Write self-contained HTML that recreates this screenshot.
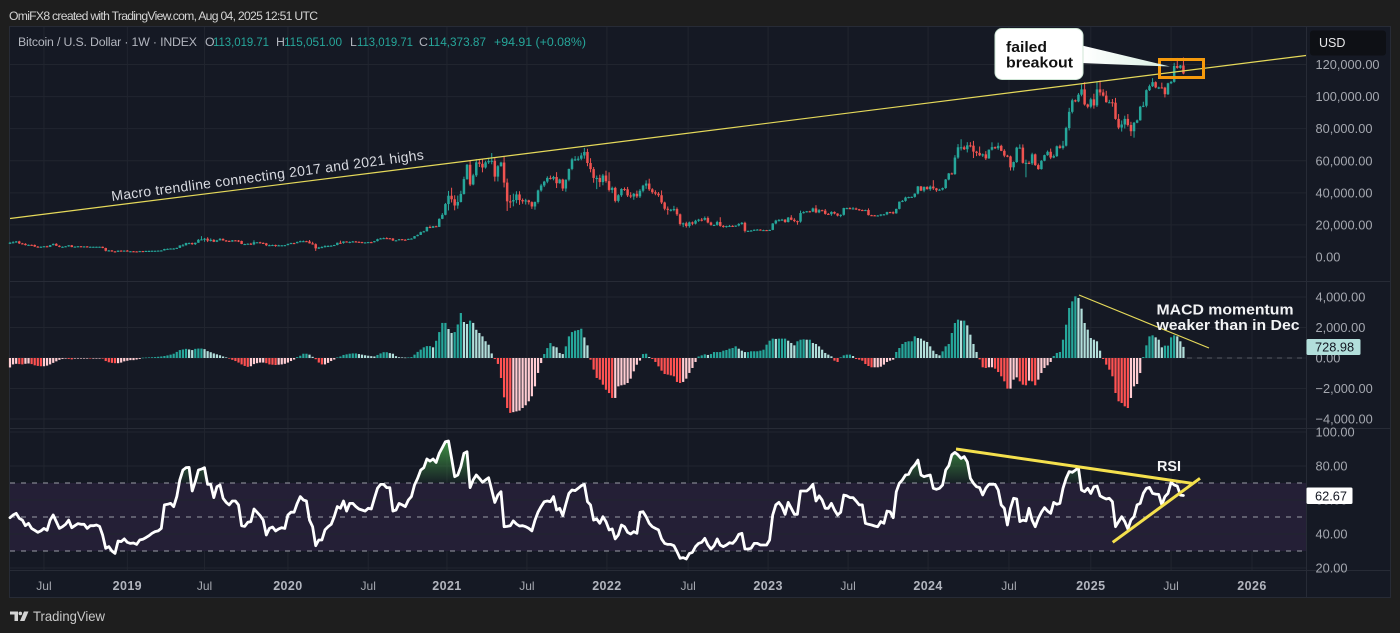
<!DOCTYPE html>
<html lang="en">
<head>
<meta charset="utf-8">
<title>Bitcoin / U.S. Dollar weekly chart</title>
<style>
html,body{margin:0;padding:0;background:#1e1e1e;width:1400px;height:633px;overflow:hidden}
svg{display:block}
text{font-family:"Liberation Sans",sans-serif}
.axis{font-size:12.8px;fill:#a5a8b0}
.bold{font-weight:700}
</style>
</head>
<body>
<svg id="chart" xmlns="http://www.w3.org/2000/svg" width="1400" height="633" viewBox="0 0 1400 633">
  <defs>
    <linearGradient id="rsiGreen" x1="0" y1="440" x2="0" y2="483" gradientUnits="userSpaceOnUse">
      <stop offset="0" stop-color="#43a047" stop-opacity="0.9"/>
      <stop offset="1" stop-color="#43a047" stop-opacity="0.05"/>
    </linearGradient>
    <linearGradient id="tailFade" x1="1083" y1="0" x2="1170" y2="0" gradientUnits="userSpaceOnUse">
      <stop offset="0" stop-color="#ffffff"/>
      <stop offset="1" stop-color="#d8efe2"/>
    </linearGradient>
    <clipPath id="rsiAbove"><rect x="9" y="429" width="1297" height="54"/></clipPath>
  </defs>
  <rect x="0" y="0" width="1400" height="633" fill="#1e1e1e"/>
  <text x="9" y="20" font-size="12.2" fill="#d4d4d4" textLength="309" lengthAdjust="spacing">OmiFX8 created with TradingView.com, Aug 04, 2025 12:51 UTC</text>
  <rect x="9.5" y="26.5" width="1381" height="571" fill="#151924" stroke="#272b36"/>
  <g id="grid"></g>
  <rect x="10" y="483" width="1296" height="68" fill="#241f36"/>
  <g id="gridH"></g>
  <g id="dividers" stroke="#272b36" stroke-width="1">
    <line x1="1306.5" y1="27" x2="1306.5" y2="598"/>
    <line x1="10" y1="281.5" x2="1390" y2="281.5"/>
    <line x1="10" y1="428.5" x2="1390" y2="428.5"/>
    <line x1="10" y1="570.5" x2="1390" y2="570.5"/>
  </g>
  <g id="rsiLevels"></g>
  <line x1="1187" y1="358" x2="1306" y2="358" stroke="#565a65" stroke-dasharray="5 5"/>
  <g id="macd"></g>
  <g id="candles"></g>
  <g id="rsiPane"></g>
  <g id="axes"></g>

  <g font-size="12.3">
    <text x="18" y="46" fill="#b2b5be" textLength="179" lengthAdjust="spacing">Bitcoin / U.S. Dollar · 1W · INDEX</text>
    <text x="205" y="46" fill="#b2b5be">O</text>
    <text x="213" y="46" fill="#26a69a" textLength="56" lengthAdjust="spacingAndGlyphs">113,019.71</text>
    <text x="276" y="46" fill="#b2b5be">H</text>
    <text x="284" y="46" fill="#26a69a" textLength="58" lengthAdjust="spacingAndGlyphs">115,051.00</text>
    <text x="350" y="46" fill="#b2b5be">L</text>
    <text x="357" y="46" fill="#26a69a" textLength="56" lengthAdjust="spacingAndGlyphs">113,019.71</text>
    <text x="419" y="46" fill="#b2b5be">C</text>
    <text x="428" y="46" fill="#26a69a" textLength="58" lengthAdjust="spacingAndGlyphs">114,373.87</text>
    <text x="494" y="46" fill="#26a69a" textLength="92" lengthAdjust="spacingAndGlyphs">+94.91 (+0.08%)</text>
  </g>

  <line x1="10" y1="218.5" x2="1306" y2="55.5" stroke="#e5d95a" stroke-width="1.2"/>
  <text x="112" y="201" font-size="14" fill="#d8dae0" transform="rotate(-7.6 112 201)" textLength="315" lengthAdjust="spacing">Macro trendline connecting 2017 and 2021 highs</text>

  <rect x="1159.5" y="59.5" width="44" height="18" fill="none" stroke="#f59a0c" stroke-width="3"/>
  <g>
    <polygon points="1080,45 1170,66.5 1080,63" fill="url(#tailFade)"/>
    <rect x="995" y="28.5" width="88" height="51" rx="7" fill="#ffffff" stroke="#cfe6d6"/>
    <text x="1006" y="52" font-size="15" class="bold" fill="#111111" textLength="41" lengthAdjust="spacingAndGlyphs">failed</text>
    <text x="1006" y="67.5" font-size="15" class="bold" fill="#111111" textLength="67" lengthAdjust="spacingAndGlyphs">breakout</text>
  </g>

  <line x1="1079" y1="295" x2="1209" y2="348" stroke="#e5d95a" stroke-width="1.2"/>
  <text x="1156.5" y="314.5" font-size="15" class="bold" fill="#f2f3f5" textLength="137" lengthAdjust="spacingAndGlyphs">MACD momentum</text>
  <text x="1156.5" y="330" font-size="15" class="bold" fill="#f2f3f5" textLength="143" lengthAdjust="spacingAndGlyphs">weaker than in Dec</text>

  <line x1="956" y1="449" x2="1192" y2="483.3" stroke="#f4e04d" stroke-width="3"/>
  <line x1="1112.7" y1="542.3" x2="1200" y2="478.3" stroke="#f4e04d" stroke-width="3"/>
  <text x="1157" y="471" font-size="15" class="bold" fill="#f2f3f5" textLength="24" lengthAdjust="spacingAndGlyphs">RSI</text>

  <rect x="1310" y="30.5" width="76" height="25" rx="3" fill="#0e1015"/>
  <text x="1319" y="47" font-size="12.5" fill="#e8e8ea">USD</text>

  <rect x="1306.5" y="339" width="54" height="16" rx="1.5" fill="#b2dfdb"/>
  <text x="1315" y="351.5" font-size="12.8" fill="#131722">728.98</text>
  <rect x="1306.5" y="487.5" width="46" height="16.5" rx="1.5" fill="#ffffff"/>
  <text x="1315" y="500.5" font-size="12.8" fill="#131722">62.67</text>

  <g>
    <path d="M10 611.5h8v9.5h-3.5v-6.5H10z M24 611.5h4.5l-4 9.5H20z" fill="#d4d4d4"/>
    <circle cx="20.3" cy="613.4" r="1.8" fill="#d4d4d4"/>
    <text x="33" y="621" font-size="13.5" fill="#c9c9c9" textLength="72" lengthAdjust="spacingAndGlyphs">TradingView</text>
  </g>
</svg>

<script>
// Weekly closes in thousands of USD, first bar Apr 2018, last bar Jul 28 2025.
const closes = [
8.9,9.2,9.7,8.5,8.2,7.4,7.6,7.5,6.5,6.2,6.4,6.7,6.3,7.4,8.2,7.0,6.3,6.4,6.7,7.3,6.2,6.5,6.7,6.6,6.6,6.3,6.4,6.4,6.4,6.4,5.6,3.9,4.1,3.5,3.2,4.0,3.9,
4.0,3.6,3.6,3.5,3.4,3.7,3.6,3.8,3.8,3.9,3.9,4.0,4.1,5.0,5.1,5.3,5.3,5.7,7.2,7.3,8.7,8.7,8.0,8.9,10.7,11.0,11.4,10.2,10.7,9.5,10.4,11.3,10.3,10.1,9.6,10.4,10.3,10.0,8.1,8.1,8.3,7.9,9.2,9.2,8.8,8.5,7.3,7.4,7.5,7.1,7.3,7.3,
7.4,8.2,8.7,8.6,9.4,9.9,9.9,9.7,8.5,8.0,5.4,5.9,6.2,6.8,6.9,7.1,7.5,8.9,8.7,9.7,9.2,9.4,9.7,9.5,9.3,9.0,9.1,9.3,9.2,9.9,11.1,11.6,11.8,11.7,11.5,10.3,10.4,11.1,10.8,10.7,11.3,11.5,13.0,13.8,15.5,16.0,18.7,18.2,19.2,18.8,23.8,26.3,33.0,
38.2,36.0,32.1,34.3,39.3,48.6,57.5,45.2,50.9,59.0,58.1,55.8,59.0,59.8,60.0,50.1,56.6,58.9,46.4,34.7,34.6,35.5,39.0,35.5,34.7,35.3,34.2,31.5,34.3,41.5,44.6,47.0,49.3,48.8,49.9,46.0,48.3,42.7,48.2,54.9,60.9,60.9,61.3,63.3,65.5,58.6,54.8,49.3,49.3,46.7,50.8,47.3,
41.8,43.1,35.0,38.5,42.4,42.2,38.4,37.7,39.4,37.8,41.3,44.5,45.8,42.2,40.4,39.5,38.5,34.0,30.1,29.4,29.5,29.9,26.6,20.6,21.0,19.3,21.6,20.8,22.6,23.3,23.2,24.3,21.5,20.0,20.0,21.8,19.4,18.8,19.3,19.4,19.3,19.6,20.6,21.3,16.3,16.3,16.5,17.0,17.1,16.8,16.8,16.5,
16.9,20.9,22.7,23.0,23.3,21.8,24.6,23.2,22.4,22.1,27.4,28.0,28.5,28.3,30.3,27.8,29.2,28.9,26.9,26.7,28.1,27.1,25.8,26.3,30.5,30.5,30.3,30.3,29.8,29.3,29.0,29.3,26.1,26.0,25.9,25.9,26.5,26.6,28.0,27.9,27.2,30.0,34.5,35.0,37.1,37.4,37.5,39.5,44.0,41.4,43.7,42.3,
43.9,42.8,41.6,42.0,43.0,48.3,52.1,51.7,62.0,68.4,68.4,67.2,69.6,69.4,65.7,64.9,63.4,64.0,61.5,66.9,68.5,67.8,69.3,66.2,63.2,62.7,55.9,59.2,68.2,68.2,58.7,58.7,58.4,64.0,57.3,54.8,60.0,63.5,65.6,62.0,62.9,69.0,68.0,69.4,80.4,90.5,97.7,97.0,101.2,104.5,95.1,93.7,98.3,
94.5,104.5,102.6,100.6,96.5,96.5,96.2,86.1,80.7,82.6,86.1,82.3,78.4,83.7,85.2,93.7,94.3,104.0,106.5,109.0,105.7,105.7,105.6,101.5,108.3,109.2,119.1,117.9,119.4,114.4];

// Upper wick length above the candle body, thousands of USD.
const wickUp = [
.5,.6,.3,.4,.3,.4,.2,.2,.3,.3,.2,.1,.3,.1,.2,.4,.3,.2,.1,.1,.2,.1,.1,.1,.1,.2,.1,.1,.1,.1,.1,.2,.3,.2,.2,.1,.2,
.1,.4,.1,.1,.1,.1,.1,.1,.2,.1,.1,.1,.1,.1,.2,.1,.2,.1,.1,.8,.2,.3,.3,.1,.5,2,.5,.9,.9,.4,.3,.5,.3,.3,.1,.2,.1,.3,.2,.2,.2,.5,1.2,.1,.3,.3,.3,.3,.2,.2,.3,.1,
.1,.1,.2,.2,.2,.3,.4,.2,.9,1,.5,.4,.5,.5,.4,.2,.1,.1,1.3,.1,.1,.3,.3,.3,.2,.2,.1,.1,.2,.1,.3,.3,.3,.5,.1,.3,.1,.1,.1,.3,.1,.2,.1,.2,.3,.3,.2,.9,.2,.3,.3,1.1,.7,
3,5,2.5,4,2,1.5,.5,3,1,2,2,3,1,2,4.8,2,.7,.5,3.5,2.5,4,4,2,2,1,1,.4,.5,.3,.5,1,.5,1,1.5,.7,3,.5,.5,.2,.2,.9,2,1.5,1.7,2.5,2,3,1.3,1.5,2,1,3,
5.5,.8,.7,.7,.5,1,1.5,2,.5,2,1,.5,2,3,.7,1.2,1,3,.5,1.4,.5,2,1,.5,.5,1,.5,.5,.6,.5,1,1,1,.5,.3,.8,3,.5,.2,.6,.4,.1,.5,.5,.7,.2,.3,.2,.3,.2,.2,.1,
.1,.2,.5,.7,.5,.3,.3,1.5,1,.3,1.5,.5,.2,.3,.5,2,.7,.3,1,.5,.4,.3,.2,.3,.2,.3,.5,.8,.5,.2,.3,.2,1,.2,.2,.2,.2,.2,.2,.2,.5,.1,.1,.5,.5,.2,.2,.2,.3,.3,.3,.4,
.7,4,.3,.5,.3,.3,.3,.5,1.5,2,5,1,2,2,3,.5,4,.5,2,.2,3,.4,2,.7,1,.5,.5,.3,.5,2,2,2,1,1,.5,1,.4,.3,.8,2,1,.5,1,3,.8,2.5,1,.5,1,3,4.5,.5,1,
3.5,5,5.5,2,3,1.5,2,3,3,2.5,2,3,2,.5,.5,.5,2.5,.5,1,2.5,.5,.5,3,.5,.3,.5,2,5,.3,5];

// Lower wick length below the candle body, thousands of USD.
const wickDown = [
.2,.2,.3,.4,.1,.2,.2,.3,.2,.2,.1,.1,.2,.1,.1,.1,.2,.5,.2,.3,.1,.1,.1,.1,.1,.1,.1,.1,.1,.1,.1,.4,.3,.2,.1,.1,.1,
.3,.1,.1,.1,.1,.2,.1,.1,.1,.1,.1,.1,.1,.1,.1,.1,.1,.1,.1,.1,.2,.5,.4,.5,.1,.2,1.5,.9,.5,.2,.2,.1,.1,.5,.2,.1,.1,.7,.1,.2,.1,.2,.5,.1,.4,.1,.5,.1,.2,.7,.1,.1,
.1,.1,.1,.2,.1,.2,.2,.3,.1,.3,1.6,.4,.3,.3,.2,.4,.1,.2,.5,.4,.2,.6,.1,.1,.2,.1,.1,.1,.1,.1,.2,.1,.1,.3,.1,.3,.2,.1,.1,.1,.1,.1,.1,.1,.1,.1,.1,.1,.1,.1,.1,.2,.3,
4,2,3,2,.3,.4,.5,1,.5,1,2,3,.7,1,2,3,3,.3,3,6,4,3,2,3,1.5,2,1.5,1.5,2,1,.8,1,1,.5,1,3,.3,1.5,2,1,.8,1,1,1,2,2,2,3,7,3,2,1,
1,2,1,1,1,1,1,1,2,1,1,1,2,1,1,1,1,1,1,3,1,1,1,1,2,1,1,1,.5,.7,1,.5,.5,.5,.5,.5,.5,.5,.5,.5,.5,.5,.5,.5,1,.5,.3,.2,.3,.2,.2,.2,
.2,.2,.5,.5,.2,.5,.3,.3,.7,2,.7,.3,.3,.5,.3,.5,.5,.3,.5,.3,1,.5,.5,1,.5,.5,.5,.3,.5,.5,.3,.2,.2,.3,.3,.5,.5,.5,.5,.5,.5,.2,.3,.3,.5,.5,.5,.5,.5,.3,1,.3,
1,1,1,.3,.5,.5,.5,.2,.5,.8,2,.5,2,1,4,2,.5,1,1,.3,.5,.5,1,.2,1,.5,2,2,.5,.5,.5,9,.5,1,.5,.4,.3,.3,.4,1,.4,.5,.5,1,.5,1.5,1,.5,.5,1,.7,1,1,
2,1,2,.5,.3,.5,2.5,.5,1,2.5,2.5,1,3,4,.3,.2,.3,1,.5,.5,.5,1,.5,2,.5,.5,.5,.5,.5,.5];

// MACD histogram values, USD.
const macdHist = [
-620,-420,-380,-400,-420,-380,-360,-400,-480,-520,-540,-540,-500,-420,-320,-220,-120,-60,-40,
-60,-90,-40,-20,-20,-20,-20,-30,-30,-30,-30,-40,-200,-280,-320,-340,-340,-300,-220,-180,-140,-140,-100,-60,
20,30,40,50,60,80,100,130,170,220,280,400,520,560,600,560,520,600,620,620,580,450,380,300,240,180,100,40,
-40,-120,-200,-300,-420,-520,-580,-540,-400,-340,-300,-300,-340,-420,-440,-460,-440,-420,-380,-300,-200,-100,
60,150,280,280,220,80,-80,-300,-420,-420,-320,-200,-100,
40,100,200,240,280,300,300,260,220,180,150,120,100,200,300,380,380,320,280,120,
50,40,30,40,60,220,400,550,700,780,780,700,1130,1700,2300,2300,1900,1640,1700,2200,2950,2360,2230,2450,2300,1850,1640,1420,1100,870,300,
-70,-390,-1310,-2580,-3280,-3600,-3550,-3500,-3450,-3280,-3100,-2840,-2510,-1860,-980,-330,
260,650,980,765,700,330,260,765,1420,1700,1790,1835,1920,1350,830,
-110,-760,-1310,-1420,-1750,-2080,-2300,-2620,-2620,-1860,-1790,-1750,-1640,-1355,-875,-440,-170,
260,280,65,
-65,-260,-550,-830,-1050,-1090,-1140,-1200,-1570,-1640,-1570,-1355,-980,-655,-260,
100,175,240,200,260,390,390,390,480,525,610,655,765,610,480,390,390,440,440,440,480,545,875,1135,1270,1250,
1270,1270,1270,1135,985,830,1095,1200,1225,1200,1200,985,920,765,545,330,220,110,
-175,-260,45,175,220,220,130,-65,-110,-175,-395,-525,-610,-610,-610,-570,-435,-260,-175,-110,
395,655,920,1050,1095,1095,1420,1310,1270,1135,1050,765,480,260,175,
435,765,920,1640,2295,2515,2450,2450,2140,1530,920,395,
-90,-610,-655,-610,-610,-700,-920,-1200,-1530,-2010,-2010,-1420,-1270,-1530,-1750,-1790,-1485,-1530,-1790,-1420,-985,-655,-480,-260,
130,330,395,1200,2185,3280,3715,4045,3935,3235,2295,1860,1310,1200,1095,480,
-65,-435,-765,-1200,-2295,-2840,-2950,-3170,-3280,-2620,-1860,-1705,-985,
65,830,1420,1485,1355,1200,700,810,810,1355,1485,1420,1095,729];

// RSI values per week.
const rsiValues = [
49.6,51.2,52.2,49.2,48.2,44.9,46.3,43.3,42.2,41,
41.8,43.3,42.2,48.2,51.2,47.3,43.3,44.3,45.7,48.2,
43.7,44.9,46.1,45.7,45.7,43.3,44.9,44.9,45.3,44.5,
39.4,31.6,32.6,30,28.6,35.9,35.5,37.1,35.1,34.5,
34.7,33.9,36.5,36.9,37.9,39,40.4,41.4,41.8,43.3,
57.1,57.5,58,56.1,62,71.8,77.6,79,79.2,65.3,
70.8,77.6,78.2,79,69.2,69.2,61.4,67.8,68.8,61,
58.6,57.1,59.4,59.4,57.1,44.9,44.5,46.9,47.3,54.7,
52.8,50.8,48.2,39.4,43.3,44.1,41.8,43,43.7,43.3,
51.2,52.8,52.8,58,62,60,59.4,48.2,44.3,33.1,
36.5,36.5,42.4,44.3,45.7,50.2,56.1,55.1,59.4,53.5,
58,58,56.1,54.7,54.1,53.5,55.1,54.7,61,66.9,
69.2,69.2,67.3,67.3,53.5,54.1,58,57.1,56.1,60,
62,68.8,72.7,77.6,79,84.1,82.9,84.1,82.1,87.4,
90.8,94.3,94.7,84.5,73.7,74.7,79.6,87.4,88.4,67.3,
71.8,74.7,72.7,70.4,71.8,73.1,65.9,58.6,62.9,64.9,
44.3,44.5,44.9,47.7,45.9,44.7,44.9,44.3,43.3,41.8,
48.2,52.8,56.1,59,59.4,59,62,54.1,55.1,50.8,
57.5,63.9,65.9,65.5,66.9,68.4,69.2,59,57.1,48.2,
48.8,46.3,50.2,47.3,42.4,43,37.1,39.4,45.3,44.3,
41,40,41.4,40.4,52.8,53.1,50.2,46.3,44.3,43.3,
42.4,37.1,34.5,33.9,33.9,33.1,29.6,25.7,26.1,25.3,
28.6,29.2,32.6,34.5,35.1,37.5,33.5,31.2,33.1,37.1,
33.5,32.6,33.5,34.9,34.5,36.5,39.8,40.4,31.2,31.2,
31.6,34.5,34.5,33.5,33.5,33.5,36.5,51.2,57.1,58.6,
56.1,51.6,58.6,55.1,51.6,51.6,65.3,65.3,65.3,66.9,
69.2,59.4,62.5,60,55.1,55.1,58,54.1,51.2,52.8,
62.9,62.5,61.4,61.4,59.4,57.1,57.1,46.3,45.7,45.3,
44.7,44.3,47.3,46.3,53.5,53.1,49.6,64.9,69.8,71.8,
74.7,75.1,78.6,80.6,83.5,74.7,73.7,74.3,74.7,66.9,
66.3,66.9,68.8,77.6,80.2,
86.5,88,86.5,84.5,85.5,82.5,72.7,69.8,67.8,67.3,
63,66.9,69.2,69.2,69.2,65.9,57.1,55.1,45.3,55.1,
61,60.6,47.3,48.2,47.7,55.1,48.2,44.3,49.2,52.8,
55.5,53.5,52.2,58.6,57.5,58,66.9,72.7,76.7,76.3,
77.6,79,65.9,64.9,66.9,63.9,67.8,68.2,62.4,61.4,
60.6,61,59,44.3,47.3,50.2,47.3,42.9,48.2,50.2,
57.1,58,63.9,66.9,67.4,63.9,63.5,63.3,57.1,62,
63.9,70.4,68.8,68.2,62.9,62.67];

const firstOpen = 8.4;
const priceTicks = [120000,100000,80000,60000,40000,20000,0];
const macdTicks = [4000,2000,0,-2000,-4000];
const rsiTicks = [100,80,60,40,20];
const rsiLevels = [70,50,30];
const timeLabels = ["Jul","2019","Jul","2020","Jul","2021","Jul","2022","Jul","2023","Jul","2024","Jul","2025","Jul","2026"];
const timeTickBars = [11,38,63,90,116,141.5,167.4,193.3,219.6,245.5,271.4,297.3,323.5,350,376,402.2];

const xBar = i => 10 + 3.088 * i;
const yPrice = k => 257 - k * 1.604;
const yPriceTick = v => yPrice(v / 1000);
const yMacd = v => 358 - v * 0.01525;
const yRsi = v => 568 - (v - 20) * 1.7;

const NS = "http://www.w3.org/2000/svg";
function make(tag, attrs, parent) {
  const el = document.createElementNS(NS, tag);
  for (const k in attrs) el.setAttribute(k, attrs[k]);
  parent.appendChild(el);
  return el;
}
const money = v => {
  const s = Math.abs(v).toLocaleString("en-US", {minimumFractionDigits: 2, maximumFractionDigits: 2});
  return (v < 0 ? "\u2212" : "") + s;
};

// Grid
const gridG = document.getElementById("grid");
timeTickBars.forEach(b => {
  const line = make("line", {x1: xBar(b), x2: xBar(b), y1: 27, y2: 570, stroke: "#21252f", "stroke-width": 1}, gridG);
  
  
});
const gridH = document.getElementById("gridH");
const hLines = priceTicks.map(yPriceTick).concat(macdTicks.map(yMacd), rsiTicks.map(yRsi));
hLines.forEach(y => {
  const line = make("line", {x1: 10, x2: 1306, y1: y, y2: y, stroke: "#21252f", "stroke-width": 1}, gridH);
  
  
});

// RSI level lines
const levelG = document.getElementById("rsiLevels");
rsiLevels.forEach(v => {
  const line = make("line", {x1: 10, x2: 1306, y1: yRsi(v), y2: yRsi(v), stroke: "#9a9da6", "stroke-width": 0.9, "stroke-dasharray": "5 6"}, levelG);
  
  
});

// MACD histogram
const macdG = document.getElementById("macd");
macdHist.forEach((v, i) => {
  const prev = i > 0 ? macdHist[i - 1] : v;
  const rising = v >= prev;
  const color = v >= 0 ? (rising ? "#26a69a" : "#b2dfdb") : (rising ? "#ffcdd2" : "#ff5252");
  const y0 = yMacd(0), y1 = yMacd(v);
  const bar = make("rect", {x: xBar(i) - 1.1, y: Math.min(y0, y1), width: 2.2, height: Math.max(0.6, Math.abs(y1 - y0)), fill: color}, macdG);
  
  
});

// Candles
const candleG = document.getElementById("candles");
closes.forEach((c, i) => {
  const o = i > 0 ? closes[i - 1] : firstOpen;
  const color = c >= o ? "#26a69a" : "#ef5350";
  const top = Math.max(o, c), bot = Math.min(o, c);
  const x = xBar(i);
  const wick = make("line", {x1: x, x2: x, y1: yPrice(top + wickUp[i]), y2: yPrice(bot - wickDown[i]), stroke: color, "stroke-width": 1}, candleG);
  
  
  const body = make("rect", {x: x - 1.25, y: yPrice(top), width: 2.5, height: Math.max(1.1, yPrice(bot) - yPrice(top)), fill: color}, candleG);
  
  
});

// RSI
const rsiG = document.getElementById("rsiPane");
const rsiPts = rsiValues.map((v, i) => xBar(i).toFixed(1) + "," + yRsi(v).toFixed(1));
const fillPts = xBar(0) + "," + yRsi(70) + " " + rsiPts.join(" ") + " " + xBar(rsiValues.length - 1) + "," + yRsi(70);
const rsiFill = make("polygon", {points: fillPts, fill: "url(#rsiGreen)", "clip-path": "url(#rsiAbove)"}, rsiG);


const rsiLine = make("polyline", {points: rsiPts.join(" "), fill: "none", stroke: "#ffffff", "stroke-width": 2.8, "stroke-linejoin": "round", "stroke-linecap": "round"}, rsiG);



// Axis labels
const axesG = document.getElementById("axes");
priceTicks.forEach(v => {
  const t = make("text", {x: 1315.5, y: yPriceTick(v) + 4.5, class: "axis"}, axesG);
  t.textContent = money(v);
  
  
});
macdTicks.forEach(v => {
  const t = make("text", {x: 1315.5, y: yMacd(v) + 4.5, class: "axis"}, axesG);
  t.textContent = money(v);
  
  
});
rsiTicks.forEach(v => {
  const t = make("text", {x: 1315.5, y: yRsi(v) + 4.5, class: "axis"}, axesG);
  t.textContent = money(v);
  
  
});
timeLabels.forEach((lab, i) => {
  const isYear = lab !== "Jul";
  const t = make("text", {x: xBar(timeTickBars[i]), y: 590, "text-anchor": "middle", "font-size": isYear ? 12.5 : 12, "font-weight": isYear ? 700 : 400, fill: isYear ? "#b2b5be" : "#a5a8b0", "letter-spacing": isYear ? 0.4 : 0}, axesG);
  t.textContent = lab;
  
  
});
</script>
</body>
</html>
